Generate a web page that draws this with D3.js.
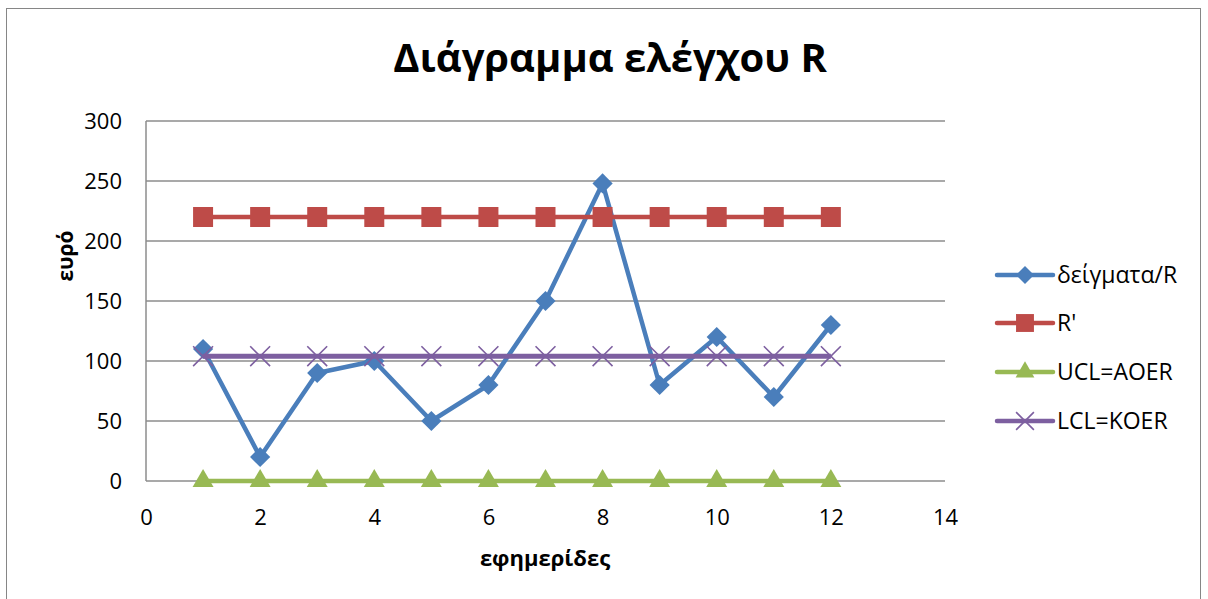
<!DOCTYPE html>
<html lang="el">
<head>
<meta charset="UTF-8">
<title>Διάγραμμα ελέγχου R</title>
<script src="https://cdn.jsdelivr.net/npm/d3@7"></script>
<style>
  body { margin: 0; background: #fff; }
  text { font-family: "Open Sans", "Noto Sans", sans-serif; }
</style>
</head>
<body>
<script>
    // data
    const days = [1, 2, 3, 4, 5, 6, 7, 8, 9, 10, 11, 12];
    const samplesR = [110, 20, 90, 100, 50, 80, 150, 248, 80, 120, 70, 130];
    const rBar = [220, 220, 220, 220, 220, 220, 220, 220, 220, 220, 220, 220];
    const ucl = [0, 0, 0, 0, 0, 0, 0, 0, 0, 0, 0, 0];
    const lcl = [104, 104, 104, 104, 104, 104, 104, 104, 104, 104, 104, 104];
    const seriesNames = ["δείγματα/R", "R'", "UCL=AOER", "LCL=KOER"];
    const xTicks = [0, 2, 4, 6, 8, 10, 12, 14];
    const yTicks = [0, 50, 100, 150, 200, 250, 300];

    const W = 1208, H = 599;
    const margin = {top: 121, right: 263, bottom: 118, left: 146};

    const svg = d3.select("body").append("svg").attr("width", W).attr("height", H);

    // outer chart border
    svg.append("rect").attr("x", 6.5).attr("y", 8.5).attr("width", 1194).attr("height", 600)
        .attr("fill", "none").attr("stroke", "#868686").attr("stroke-width", 1);

    const x = d3.scaleLinear().domain([0, 14]).range([margin.left, W - margin.right]);
    const y = d3.scaleLinear().domain([0, 300]).range([H - margin.bottom, margin.top]);

    // gridlines
    svg.append("g").selectAll("line").data(yTicks).join("line")
        .attr("x1", x(0)).attr("x2", x(14))
        .attr("y1", d => y(d)).attr("y2", d => y(d))
        .attr("stroke", "#8c8c8c").attr("stroke-width", 1.5);
    svg.append("line").attr("x1", x(0)).attr("x2", x(0)).attr("y1", y(0)).attr("y2", y(300))
        .attr("stroke", "#8c8c8c").attr("stroke-width", 1.5);

    // tick labels
    svg.append("g").attr("transform", `translate(0,${y(0)})`)
        .call(d3.axisBottom(x).tickValues(xTicks).tickSize(0).tickPadding(28))
        .call(g => g.select(".domain").remove())
        .call(g => g.selectAll("text").attr("font-size", 22).attr("fill", "#000")
            .attr("font-family", "Open Sans, sans-serif"));
    svg.append("g").attr("transform", `translate(${x(0)},0)`)
        .call(d3.axisLeft(y).tickValues(yTicks).tickSize(0).tickPadding(24))
        .call(g => g.select(".domain").remove())
        .call(g => g.selectAll("text").attr("font-size", 22).attr("fill", "#000")
            .attr("font-family", "Open Sans, sans-serif"));

    // titles
    svg.append("text").attr("x", 610).attr("y", 72).attr("text-anchor", "middle")
        .attr("font-size", 40).attr("font-weight", "bold").text("Διάγραμμα ελέγχου R");
    svg.append("text").attr("x", 545).attr("y", 566).attr("text-anchor", "middle")
        .attr("font-size", 22).attr("font-weight", "bold").text("εφημερίδες");
    svg.append("text").attr("transform", "translate(73,256) rotate(-90)")
        .attr("text-anchor", "middle").attr("font-size", 21).attr("font-weight", "bold").text("ευρό");

    const colors = ["#4a7ebb", "#be4b48", "#98b954", "#7d5fa0"];
    const series = [samplesR, rBar, ucl, lcl];
    const symbols = [d3.symbolDiamond2, d3.symbolSquare, d3.symbolTriangle, d3.symbolX];
    const symSize = [260, 400, 190, 260];

    const line = d3.line().x((d, i) => x(days[i])).y(d => y(d));

    series.forEach((vals, k) => {
        const g = svg.append("g");
        g.append("path").datum(vals).attr("d", line).attr("fill", "none")
            .attr("stroke", colors[k]).attr("stroke-width", k === 3 ? 5 : 4.5)
            .attr("stroke-linejoin", "round");
        g.selectAll("path.m").data(vals).join("path").attr("class", "m")
            .attr("transform", (d, i) => `translate(${x(days[i])},${y(d)})`)
            .attr("d", d3.symbol().type(symbols[k]).size(symSize[k]))
            .attr("fill", k === 3 ? "none" : colors[k])
            .attr("stroke", k === 3 ? colors[k] : "none").attr("stroke-width", 1.6);
    });

    // legend
    const legY = [275, 323, 372, 421];
    const leg = svg.append("g");
    seriesNames.forEach((name, k) => {
        const gy = legY[k];
        leg.append("line").attr("x1", 997).attr("x2", 1053).attr("y1", gy).attr("y2", gy)
            .attr("stroke", colors[k]).attr("stroke-width", 4.5).attr("stroke-linecap", "round");
        leg.append("path").attr("transform", `translate(1025,${gy})`)
            .attr("d", d3.symbol().type(symbols[k]).size(symSize[k] * 0.8))
            .attr("fill", k === 3 ? "none" : colors[k])
            .attr("stroke", k === 3 ? colors[k] : "none").attr("stroke-width", 1.6);
        leg.append("text").attr("x", 1057).attr("y", gy).attr("dy", "0.35em")
            .attr("font-size", 23).text(name);
    });
</script>
</body>
</html>
